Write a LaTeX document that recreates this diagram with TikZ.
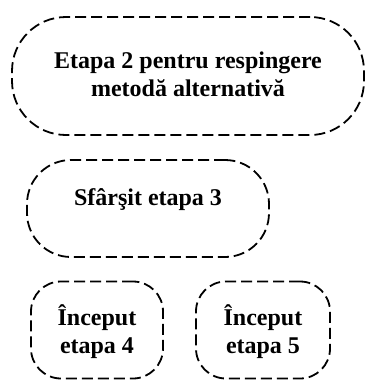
\documentclass[tikz,border=0pt]{standalone}
\usepackage{fontspec}
\setmainfont{Liberation Serif}
\begin{document}
\begin{tikzpicture}[x=1pt,y=-1pt,
  dbox/.style={draw=black, line width=1.8pt, dash pattern=on 11pt off 5pt, rectangle, inner sep=0pt},
  lbl/.style={font=\bfseries\fontsize{24}{28}\selectfont, align=center, inner sep=0pt}]
\useasboundingbox (0,0) rectangle (369,383);
\node[dbox, minimum width=352pt, minimum height=118pt, rounded corners=54pt] (b1) at (188,76) {};
\node[lbl] (t1) at (188,74) {Etapa 2 pentru respingere\\metodă alternativă};
\node[dbox, minimum width=242pt, minimum height=97pt, rounded corners=44pt] (b2) at (148,208.5) {};
\node[lbl] (t2) at (148,200) {Sfârşit etapa 3};
\node[dbox, minimum width=132pt, minimum height=97pt, rounded corners=30pt] (b3) at (97,330) {};
\node[lbl] (t3) at (97,332) {Început\\etapa 4};
\node[dbox, minimum width=134pt, minimum height=97pt, rounded corners=30pt] (b4) at (263,330) {};
\node[lbl] (t4) at (263,332) {Început\\etapa 5};
\end{tikzpicture}
\end{document}
